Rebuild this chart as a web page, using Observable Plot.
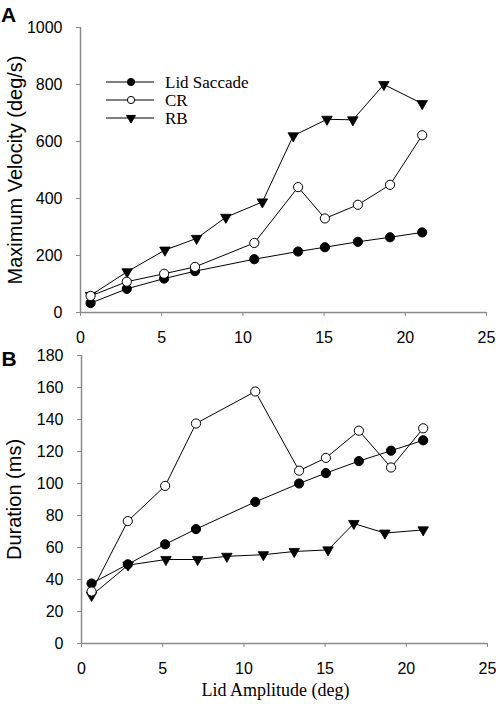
<!DOCTYPE html>
<html><head><meta charset="utf-8">
<script src="https://cdn.jsdelivr.net/npm/d3@7"></script>
<script src="https://cdn.jsdelivr.net/npm/@observablehq/plot@0.6"></script>
<style>
body{margin:0;background:#fff;}
#wrap{position:relative;width:496px;height:704px;background:#fff;}
#wrap svg{display:block;}
</style></head><body><div id="wrap"></div>
<script>
// ---- data ----
const seriesNames = ["Lid Saccade", "CR", "RB"];
const xTicks = [0, 5, 10, 15, 20, 25];
const ampLidCR = [0.62, 2.85, 5.15, 7.05, 10.7, 13.4, 15.05, 17.08, 19.06, 21.04];
const ampRB = [0.62, 2.87, 5.2, 7.15, 8.95, 11.2, 13.1, 15.18, 16.77, 18.68, 21.04];

const velTicks = [0, 200, 400, 600, 800, 1000];
const velLid = [33, 83, 119, 145, 187, 214, 229, 248, 264, 281];
const velCR = [58, 108, 136, 160, 244, 440, 330, 378, 448, 622];
const velRB = [60, 143, 219, 260, 334, 388, 620, 678, 676, 800, 733];

const durTicks = [0, 20, 40, 60, 80, 100, 120, 140, 160, 180];
const durLid = [37.5, 49.5, 62, 71.5, 88.5, 100, 106.5, 114, 120.5, 127];
const durCR = [32.5, 76.5, 98.5, 137.5, 157.5, 108, 116, 133, 110, 134.5];
const durRB = [30, 49, 52.5, 52.5, 54.5, 55.5, 57.5, 58.5, 75, 69, 71];

const SANS = '"Liberation Sans", Arial, sans-serif';
const SERIF = '"Liberation Serif", "Times New Roman", serif';
const AXIS = "#8a8a8a";

function rows(xs, ys, series) { return xs.map((x, i) => ({x, y: ys[i], series})); }

function panel(o) {
  const lid = rows(ampLidCR, o.lid, seriesNames[0]);
  const cr = rows(ampLidCR, o.cr, seriesNames[1]);
  const rb = rows(ampRB, o.rb, seriesNames[2]);
  const marks = [
    Plot.axisX({ticks: xTicks, tickSize: 4, tickPadding: 15, stroke: AXIS, fill: "black", label: null, tickFormat: d => String(d)}),
    Plot.axisY({ticks: o.yTicks, tickSize: 4, tickPadding: 14, stroke: AXIS, fill: "black", label: null, tickFormat: d => String(d)}),
    Plot.ruleX([0], {stroke: AXIS, strokeWidth: 1.5}),
    Plot.ruleY([0], {stroke: AXIS, strokeWidth: 1.5}),
    Plot.line(rb, {x: "x", y: "y", stroke: "black", strokeWidth: 1}),
    Plot.line(cr, {x: "x", y: "y", stroke: "black", strokeWidth: 1}),
    Plot.line(lid, {x: "x", y: "y", stroke: "black", strokeWidth: 1}),
    Plot.dot(rb, {x: "x", y: "y", symbol: "triangle", rotate: 180, r: 3.9, fill: "black", stroke: "black", strokeWidth: 0.8}),
    Plot.dot(lid, {x: "x", y: "y", r: 4.6, fill: "black", stroke: "black", strokeWidth: 1}),
    Plot.dot(cr, {x: "x", y: "y", r: 4.6, fill: "white", stroke: "black", strokeWidth: 1}),
    Plot.text([o.yLabel], {frameAnchor: "left", textAnchor: "middle", lineAnchor: "middle", rotate: -90, dx: o.yLabelDx, fontSize: 20, fontFamily: SANS, fill: "black"}),
    Plot.text([o.letter], {frameAnchor: "top-left", textAnchor: "middle", lineAnchor: "middle", dx: o.letterDx, dy: o.letterDy, fontSize: 21, fontWeight: "bold", fontFamily: SANS, fill: "black"})
  ];
  if (o.xLabel) marks.push(Plot.text([o.xLabel], {frameAnchor: "bottom", textAnchor: "middle", lineAnchor: "middle", dy: o.xLabelDy, dx: -9, fontSize: 18, fontFamily: SERIF, fill: "black"}));
  return Plot.plot({
    width: 496, height: o.height,
    marginTop: o.marginTop, marginBottom: o.marginBottom, marginLeft: o.marginLeft, marginRight: o.marginRight,
    x: {domain: [0, 25]},
    y: {domain: o.yDomain},
    style: {fontFamily: SANS, fontSize: "16px", color: "black", background: "white", overflow: "visible"},
    marks
  });
}

const wrap = document.getElementById("wrap");
wrap.appendChild(panel({
  height: 345, marginTop: 27, marginBottom: 33, marginLeft: 80, marginRight: 10,
  yDomain: [0, 1000], yTicks: velTicks, lid: velLid, cr: velCR, rb: velRB,
  yLabel: "Maximum Velocity (deg/s)", yLabelDx: -65,
  letter: "A", letterDx: -72, letterDy: -12
}));
wrap.appendChild(panel({
  height: 359, marginTop: 10, marginBottom: 61, marginLeft: 81, marginRight: 9,
  yDomain: [0, 180], yTicks: durTicks, lid: durLid, cr: durCR, rb: durRB,
  yLabel: "Duration (ms)", yLabelDx: -67,
  letter: "B", letterDx: -72.5, letterDy: 3.5,
  xLabel: "Lid Amplitude (deg)", xLabelDy: 47
}));

// ---- legend (panel A) ----
const leg = d3.select(wrap).append("svg")
  .style("position", "absolute").style("left", "0px").style("top", "0px")
  .attr("width", 300).attr("height", 140);
const legStyle = [
  {fill: "black", sym: d3.symbolCircle, size: Math.PI * 3.6 * 3.6, rot: 0},
  {fill: "white", sym: d3.symbolCircle, size: Math.PI * 3.6 * 3.6, rot: 0},
  {fill: "black", sym: d3.symbolTriangle, size: Math.PI * 3.3 * 3.3, rot: 180}
];
seriesNames.forEach((name, i) => {
  const g = leg.append("g").attr("transform", `translate(0,${82 + i * 18})`);
  g.append("line").attr("x1", 106).attr("x2", 154).attr("stroke", "black").attr("stroke-width", 1);
  g.append("path").attr("d", d3.symbol(legStyle[i].sym, legStyle[i].size)())
    .attr("transform", `translate(131,0) rotate(${legStyle[i].rot})`)
    .attr("fill", legStyle[i].fill).attr("stroke", "black").attr("stroke-width", 1);
  g.append("text").attr("x", 165).attr("dy", "0.35em").attr("font-family", SERIF).attr("font-size", 17)
    .attr("fill", "black").text(name);
});
</script></body></html>
